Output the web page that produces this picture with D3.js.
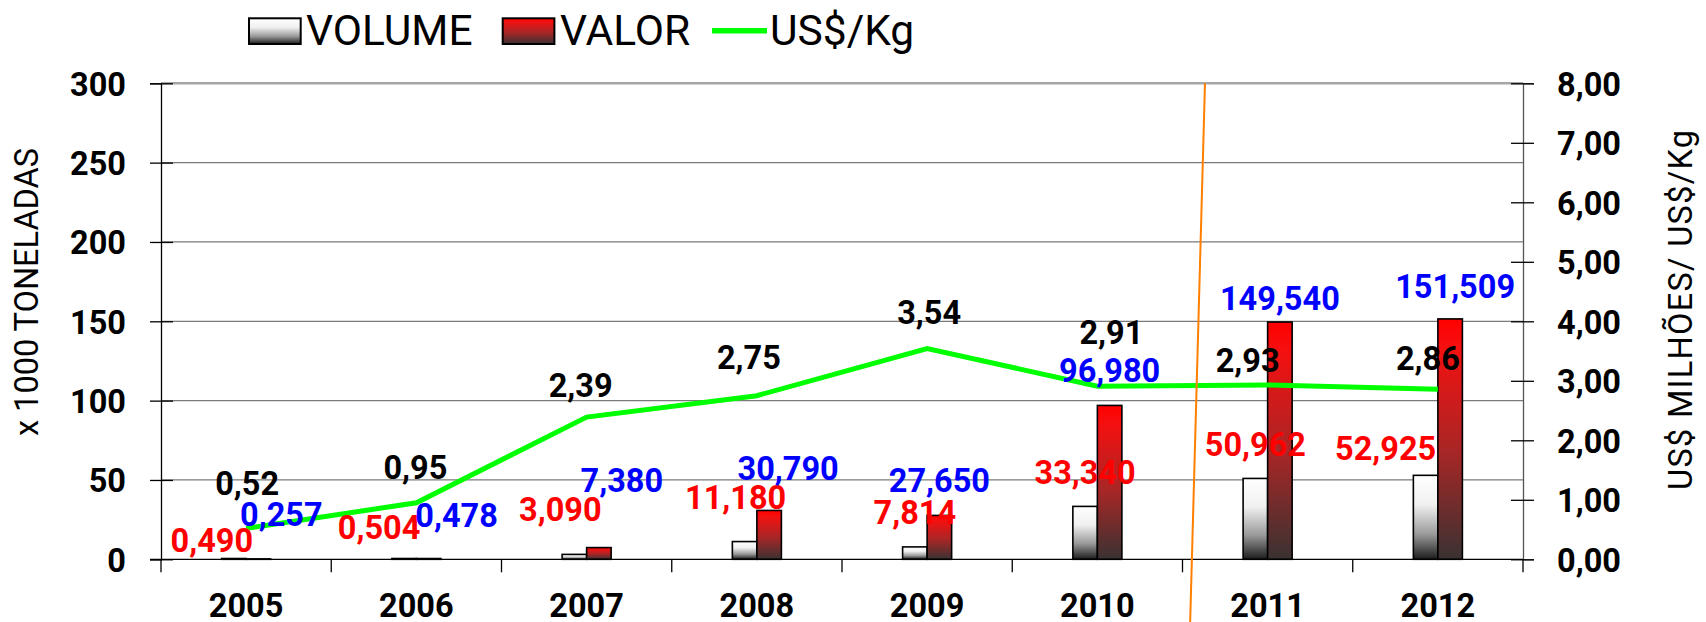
<!DOCTYPE html>
<html>
<head>
<meta charset="utf-8">
<script src="https://cdn.jsdelivr.net/npm/d3@7"></script>
<style>
  body { margin: 0; background: #fff; }
  svg { display: block; font-family: Roboto, "Liberation Sans", sans-serif; }
</style>
</head>
<body>
<div id="chart"></div>
<script>
// data
const years = ["2005", "2006", "2007", "2008", "2009", "2010", "2011", "2012"];
const volume = [0.490, 0.504, 3.090, 11.180, 7.814, 33.340, 50.962, 52.925];      // x 1000 t
const valor = [0.257, 0.478, 7.380, 30.790, 27.650, 96.980, 149.540, 151.509];    // US$ milhões
const price = [0.52, 0.95, 2.39, 2.75, 3.54, 2.91, 2.93, 2.86];                   // US$/Kg
const leftTicks = [0, 50, 100, 150, 200, 250, 300];
const rightTicks = [0, 1, 2, 3, 4, 5, 6, 7, 8];

// labels were dragged by hand in the original, keep the nudges [dx, dy]
const volumeNudge = [[-22, -7], [-25, -20], [-14, -33], [-9, -33], [0, -23], [0, -22], [0, -22], [-40, -15]];
const valorNudge = [[23, -33], [28, -32], [23, -56], [19, -30], [0, -23], [0, -23], [0, -12], [5, -21]];
const priceNudge = [[1, -33], [-1, -24], [-6, -20], [-8, -27], [2, -25], [14, -42], [-20, -13], [-10, -19]];

const width = 1706, height = 622;
const margin = { top: 83.3, right: 183, bottom: 62.7, left: 161 };

const br = d3.formatLocale({ decimal: ",", thousands: ".", grouping: [3], currency: ["US$", ""] });
const fmt3 = br.format(".3f");
const fmt2 = br.format(".2f");

const svg = d3.select("#chart").append("svg")
  .attr("width", width)
  .attr("height", height);

const defs = svg.append("defs");
function gradient(id, stops) {
  const g = defs.append("linearGradient").attr("id", id)
    .attr("x1", 0).attr("y1", 0).attr("x2", 0).attr("y2", 1);
  stops.forEach(s => g.append("stop").attr("offset", s[0]).attr("stop-color", s[1]));
}
gradient("gradVolume", [[0, "#ffffff"], [0.35, "#f0f0f0"], [0.7, "#9a9a9a"], [1, "#1c1c1c"]]);
gradient("gradValor", [[0, "#ff0000"], [0.12, "#f51010"], [0.55, "#a82626"], [1, "#3a3232"]]);

const x = d3.scaleBand()
  .domain(years)
  .range([margin.left, width - margin.right])
  .padding(0);

const yLeft = d3.scaleLinear()
  .domain([0, 300])
  .range([height - margin.bottom, margin.top]);

const yRight = d3.scaleLinear()
  .domain([0, 8])
  .range([height - margin.bottom, margin.top]);

const barW = x.step() * 0.144;
const cx = (i) => x(years[i]) + x.bandwidth() / 2;

// gridlines
svg.append("g")
  .selectAll("line")
  .data(leftTicks.filter(d => d > 0))
  .join("line")
  .attr("x1", margin.left)
  .attr("x2", width - margin.right)
  .attr("y1", d => yLeft(d))
  .attr("y2", d => yLeft(d))
  .attr("stroke", d => d == 300 ? "#a6a6a6" : "#7a7a7a")
  .attr("stroke-width", d => d == 300 ? 2.5 : 1.3);

// left axis
const leftAxis = svg.append("g")
  .attr("transform", `translate(${margin.left},0)`)
  .call(d3.axisLeft(yLeft).tickValues(leftTicks).tickSize(11).tickPadding(24));
leftAxis.select(".domain").attr("stroke", "#000").attr("stroke-width", 1.3);
leftAxis.selectAll(".tick line").attr("x2", -11).attr("x1", 12).attr("stroke", "#000").attr("stroke-width", 1.3);
leftAxis.selectAll(".tick text")
  .attr("font-size", 32.5).attr("font-weight", 700).attr("fill", "#000")
  .attr("font-family", "Roboto").attr("dy", "0.36em");

// right axis
const rightAxis = svg.append("g")
  .attr("transform", `translate(${width - margin.right},0)`)
  .call(d3.axisRight(yRight).tickValues(rightTicks).tickSize(11).tickPadding(23).tickFormat(fmt2));
rightAxis.select(".domain").attr("stroke", "#555").attr("stroke-width", 1.3);
rightAxis.selectAll(".tick line").attr("x1", -12).attr("x2", 11).attr("stroke", "#000").attr("stroke-width", 1.3);
rightAxis.selectAll(".tick text")
  .attr("font-size", 32.5).attr("font-weight", 700).attr("fill", "#000")
  .attr("font-family", "Roboto").attr("dy", "0.36em");

// bars
const bars = svg.append("g");
bars.selectAll(".vol")
  .data(volume)
  .join("rect")
  .attr("class", "vol")
  .attr("x", (d, i) => cx(i) - barW)
  .attr("y", d => yLeft(d))
  .attr("width", barW)
  .attr("height", d => yLeft(0) - yLeft(d))
  .attr("fill", "url(#gradVolume)")
  .attr("stroke", "#000")
  .attr("stroke-width", 1.6);
bars.selectAll(".val")
  .data(valor)
  .join("rect")
  .attr("class", "val")
  .attr("x", (d, i) => cx(i))
  .attr("y", d => yLeft(d))
  .attr("width", barW)
  .attr("height", d => yLeft(0) - yLeft(d))
  .attr("fill", "url(#gradValor)")
  .attr("stroke", "#000")
  .attr("stroke-width", 1.6);

// x axis + category ticks
const xAxis = svg.append("g")
  .attr("transform", `translate(0,${yLeft(0)})`)
  .call(d3.axisBottom(x).tickSize(0).tickPadding(35));
xAxis.select(".domain").remove();
xAxis.append("line")
  .attr("x1", margin.left - 11).attr("x2", width - margin.right)
  .attr("stroke", "#000").attr("stroke-width", 1.3);
xAxis.selectAll(".bound")
  .data(d3.range(years.length + 1))
  .join("line")
  .attr("class", "bound")
  .attr("x1", i => margin.left + i * x.step())
  .attr("x2", i => margin.left + i * x.step())
  .attr("y1", 0).attr("y2", 13)
  .attr("stroke", "#000").attr("stroke-width", 1.3);
xAxis.selectAll(".tick text")
  .attr("font-size", 32.5).attr("font-weight", 700).attr("fill", "#000")
  .attr("font-family", "Roboto").attr("dy", "0.71em");

// price line
const line = d3.line()
  .x((d, i) => cx(i))
  .y(d => yRight(d));
svg.append("path")
  .datum(price)
  .attr("d", line)
  .attr("fill", "none")
  .attr("stroke", "#00ff00")
  .attr("stroke-width", 5);

// data labels
function labels(values, nudge, ax, ay, color, format) {
  svg.append("g")
    .selectAll("text")
    .data(values)
    .join("text")
    .attr("x", (d, i) => ax(d, i) + nudge[i][0])
    .attr("y", (d, i) => ay(d, i) + nudge[i][1])
    .attr("text-anchor", "middle")
    .attr("font-size", 32.5)
    .attr("font-weight", 700)
    .attr("fill", color)
    .text(format);
}
labels(volume, volumeNudge, (d, i) => cx(i) - barW / 2, d => yLeft(d), "#ff0000", fmt3);
labels(valor, valorNudge, (d, i) => cx(i) + barW / 2, d => yLeft(d), "#0000ff", fmt3);
labels(price, priceNudge, (d, i) => cx(i), d => yRight(d), "#000", fmt2);

// axis titles
svg.append("text")
  .attr("transform", `translate(37.5,292) rotate(-90)`)
  .attr("text-anchor", "middle")
  .attr("font-size", 32.5)
  .text("x 1000 TONELADAS");
svg.append("text")
  .attr("transform", `translate(1692,310) rotate(-90)`)
  .attr("text-anchor", "middle")
  .attr("font-size", 32.5)
  .attr("textLength", 360)
  .attr("lengthAdjust", "spacing")
  .text("US$ MILHÕES/ US$/Kg");

// legend
const legend = svg.append("g").attr("font-size", 42.5);
legend.append("rect").attr("x", 249).attr("y", 18.3).attr("width", 51.7).attr("height", 25.7)
  .attr("fill", "url(#gradVolume)").attr("stroke", "#000").attr("stroke-width", 2);
legend.append("text").attr("x", 306).attr("y", 45).text("VOLUME");
legend.append("rect").attr("x", 502.7).attr("y", 18.3).attr("width", 51.7).attr("height", 25.7)
  .attr("fill", "url(#gradValor)").attr("stroke", "#000").attr("stroke-width", 2);
legend.append("text").attr("x", 560).attr("y", 45).text("VALOR");
legend.append("line").attr("x1", 712).attr("x2", 767).attr("y1", 30.7).attr("y2", 30.7)
  .attr("stroke", "#00ff00").attr("stroke-width", 5.5);
legend.append("text").attr("x", 770).attr("y", 45).text("US$/Kg");

// hand drawn orange separator between 2010 and 2011
const sep = x("2011");
svg.append("line")
  .attr("x1", sep + x.step() * 0.132).attr("y1", yLeft(300))
  .attr("x2", sep + x.step() * 0.045).attr("y2", height)
  .attr("stroke", "#ff8000")
  .attr("stroke-width", 2);
</script>
</body>
</html>
